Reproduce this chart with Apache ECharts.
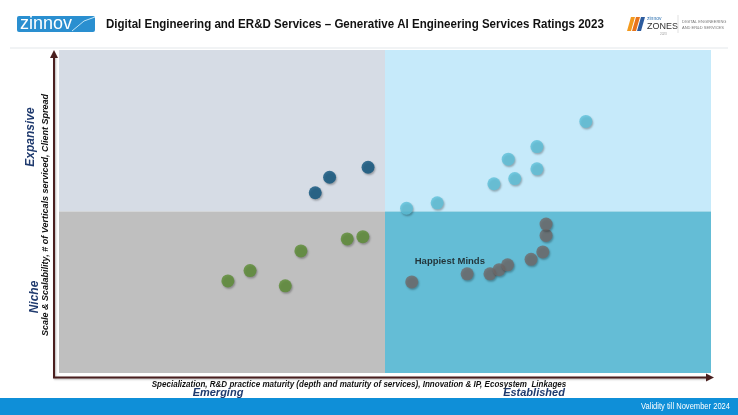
<!DOCTYPE html>
<html>
<head>
<meta charset="utf-8">
<script src="https://cdn.jsdelivr.net/npm/echarts@6/dist/echarts.min.js"></script>
<style>
html,body{margin:0;padding:0;background:#fff;}
#c{width:738px;height:415px;}
</style>
</head>
<body>
<div id="c"></div>
<script>
// Quadrant split values (axis 0..100)
var quadrantSplitX = 50;
var quadrantSplitY = 50;

// Series values [x, y]
var emergingExpansive = [[39.3, 55.8], [41.5, 60.6], [47.4, 63.7]];
var emergingNiche = [[25.9, 28.5], [29.3, 31.7], [34.7, 27.0], [37.1, 37.8], [44.2, 41.5], [46.6, 42.2]];
var establishedExpansive = [[53.3, 51.0], [58.0, 52.7], [66.7, 58.6], [69.9, 60.2], [68.9, 66.2], [73.3, 63.2], [73.3, 70.1], [80.8, 77.9]];
var establishedNiche = [[54.1, 28.2], [62.6, 30.7], [66.1, 30.7], [67.5, 32.0], [68.8, 33.5], [72.4, 35.2], [74.2, 37.5], [74.7, 42.6], [74.7, 46.1]];
var highlightName = 'Happiest Minds';
var highlightIndex = 0;

var title = 'Digital Engineering and ER&D Services \u2013 Generative AI Engineering Services Ratings 2023';
var xAxisTitle = 'Specialization, R&D practice maturity (depth and maturity of services), Innovation & IP, Ecosystem  Linkages';
var yAxisTitle = 'Scale & Scalability, # of Verticals serviced, Client Spread';
var xLow = 'Emerging', xHigh = 'Established';
var yLow = 'Niche', yHigh = 'Expansive';
var footerText = 'Validity till November 2024';

var chart = echarts.init(document.getElementById('c'));
var sans = "'Liberation Sans',Arial,sans-serif";
var navy = '#1f3a6e';
var axisColor = '#4a1f1f';

function dot(color) {
  return {
    color: color,
    shadowColor: 'rgba(0,0,0,0.35)',
    shadowBlur: 2,
    shadowOffsetX: 1,
    shadowOffsetY: 1.5
  };
}

var nicheData = establishedNiche.map(function (p, i) {
  if (i === highlightIndex) {
    return {
      value: p,
      label: {
        show: true,
        formatter: highlightName,
        position: [9.5, -14],
        align: 'left',
        verticalAlign: 'middle',
        color: '#111',
        fontWeight: 'bold',
        fontSize: 9.5,
        fontFamily: sans
      }
    };
  }
  return p;
});

var option = {
  animation: false,
  grid: { left: 59, top: 50, right: 27, bottom: 42 },
  xAxis: { type: 'value', min: 0, max: 100, show: false },
  yAxis: { type: 'value', min: 0, max: 100, show: false },
  series: [
    {
      type: 'scatter',
      data: [],
      silent: true,
      markArea: {
        silent: true,
        itemStyle: { borderWidth: 0 },
        data: [
          [{ coord: [0, quadrantSplitY], itemStyle: { color: '#d6dce5' } }, { coord: [quadrantSplitX, 100] }],
          [{ coord: [quadrantSplitX, quadrantSplitY], itemStyle: { color: '#c6eafa' } }, { coord: [100, 100] }],
          [{ coord: [0, 0], itemStyle: { color: '#bfbfbf' } }, { coord: [quadrantSplitX, quadrantSplitY] }],
          [{ coord: [quadrantSplitX, 0], itemStyle: { color: '#64bdd6' } }, { coord: [100, quadrantSplitY] }]
        ]
      }
    },
    { type: 'scatter', symbolSize: 13, data: emergingExpansive, itemStyle: dot('#0d527c') },
    { type: 'scatter', symbolSize: 13, data: emergingNiche, itemStyle: dot('#5b8c33') },
    { type: 'scatter', symbolSize: 13, data: establishedExpansive, itemStyle: dot('#5cc0da') },
    { type: 'scatter', symbolSize: 13, data: nicheData, itemStyle: dot('#716a6a') }
  ],
  graphic: [
    // header
    { type: 'rect', shape: { x: 17, y: 16, width: 78, height: 16, r: 2 }, style: { fill: '#2a8fd0' } },
    { type: 'text', x: 20, y: 24.5, style: { text: 'zinnov', fill: '#fff', font: "18px " + sans, verticalAlign: 'middle' } },
    { type: 'polyline', shape: { points: [[72, 31], [84, 21], [95, 17]] }, style: { stroke: '#bfe4f7', lineWidth: 1, fill: null } },
    { type: 'text', x: 106, y: 24, scaleX: 0.888, style: { text: title, fill: '#111', font: "bold 13px " + sans, verticalAlign: 'middle' } },
    // right logo
    { type: 'polygon', shape: { points: [[627, 31], [631, 17], [635, 17], [631, 31]] }, style: { fill: '#f39a1e' } },
    { type: 'polygon', shape: { points: [[632, 31], [636, 17], [640, 17], [636, 31]] }, style: { fill: '#e8741c' } },
    { type: 'polygon', shape: { points: [[637, 31], [641, 17], [645, 17], [641, 31]] }, style: { fill: '#2d5c9e' } },
    { type: 'text', x: 647, y: 19, style: { text: 'zinnov', fill: '#2a6fb0', font: "5px " + sans, verticalAlign: 'middle' } },
    { type: 'text', x: 647, y: 27, style: { text: 'ZONES', fill: '#333', font: "9px " + sans, verticalAlign: 'middle' } },
    { type: 'text', x: 660, y: 34, style: { text: '2023', fill: '#999', font: "3px " + sans, verticalAlign: 'middle' } },
    { type: 'line', shape: { x1: 678, y1: 15, x2: 678, y2: 33 }, style: { stroke: '#ccc', lineWidth: 0.6 } },
    { type: 'text', x: 682, y: 19, style: { text: 'DIGITAL ENGINEERING\nAND ER&D SERVICES', fill: '#777', font: "4px " + sans, lineHeight: 6 } },
    { type: 'line', shape: { x1: 10, y1: 48, x2: 728, y2: 48 }, style: { stroke: '#e3e7ea', lineWidth: 1 } },
    // axes
    { type: 'polyline', shape: { points: [[54, 56], [54, 377.5], [708, 377.5]] }, style: { stroke: axisColor, lineWidth: 2, fill: null, shadowColor: 'rgba(0,0,0,0.3)', shadowBlur: 2, shadowOffsetX: 1, shadowOffsetY: 1 } },
    { type: 'polygon', shape: { points: [[54, 50], [50, 58], [58, 58]] }, style: { fill: axisColor } },
    { type: 'polygon', shape: { points: [[714, 377.5], [706, 373.5], [706, 381.5]] }, style: { fill: axisColor } },
    // y titles
    { type: 'text', x: 31, y: 137, rotation: Math.PI / 2, style: { text: yHigh, fill: navy, font: "italic bold 12px " + sans, align: 'center', verticalAlign: 'middle' } },
    { type: 'text', x: 35, y: 297, rotation: Math.PI / 2, style: { text: yLow, fill: navy, font: "italic bold 12px " + sans, align: 'center', verticalAlign: 'middle' } },
    { type: 'text', x: 46, y: 215, rotation: Math.PI / 2, style: { text: yAxisTitle, fill: '#111', font: "italic bold 9px " + sans, align: 'center', verticalAlign: 'middle' } },
    // x titles
    { type: 'text', x: 359, y: 385, scaleX: 0.945, style: { text: xAxisTitle, fill: '#111', font: "italic bold 8.5px " + sans, align: 'center', verticalAlign: 'middle' } },
    { type: 'text', x: 218, y: 393, style: { text: xLow, fill: navy, font: "italic bold 11px " + sans, align: 'center', verticalAlign: 'middle' } },
    { type: 'text', x: 534, y: 393, style: { text: xHigh, fill: navy, font: "italic bold 11px " + sans, align: 'center', verticalAlign: 'middle' } },
    // footer
    { type: 'rect', shape: { x: 0, y: 398, width: 738, height: 17 }, style: { fill: '#0f8fd8' }, z: -1 },
    { type: 'text', x: 730, y: 407, scaleX: 0.84, style: { text: footerText, fill: '#fff', font: "9px " + sans, align: 'right', verticalAlign: 'middle' } }
  ]
};
chart.setOption(option);
</script>
</body>
</html>
